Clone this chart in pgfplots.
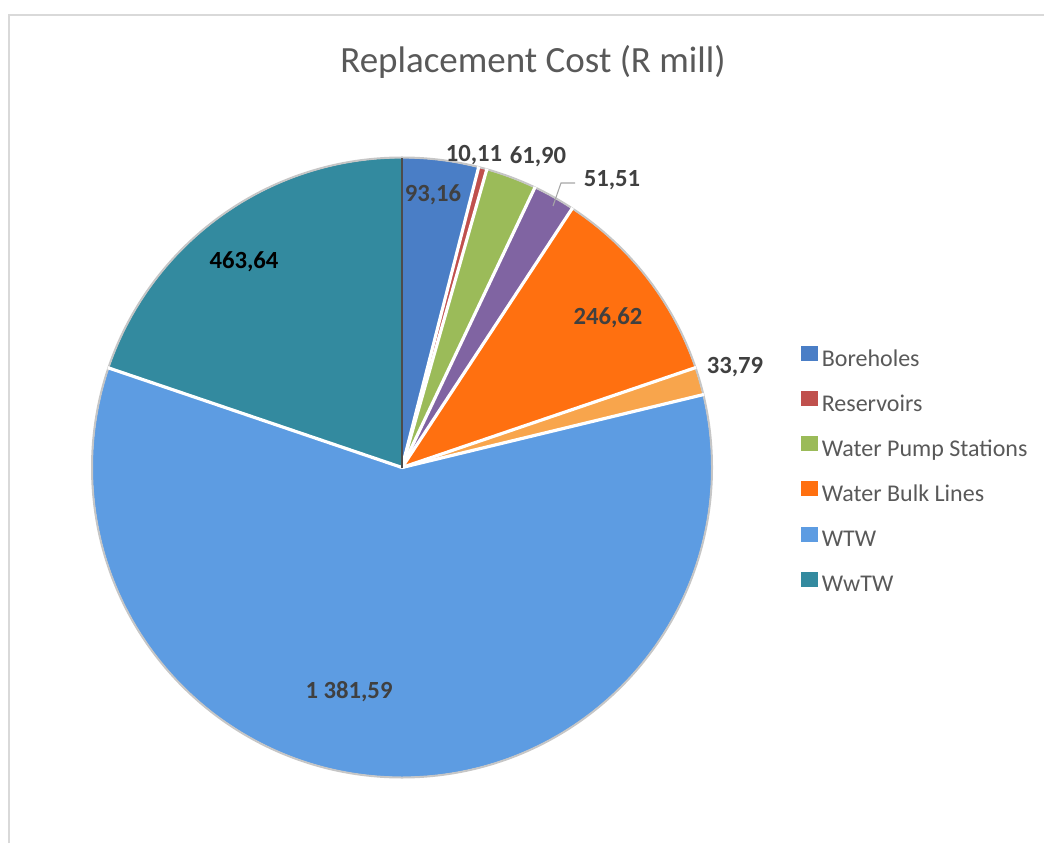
\documentclass[border=0pt]{standalone}
\usepackage{pgfplots}
\pgfplotsset{compat=1.18}
\usepackage{fontspec}
\setmainfont{Carlito}
\definecolor{cBore}{HTML}{4A7EC6}
\definecolor{cRes}{HTML}{C0504D}
\definecolor{cWPS}{HTML}{9BBB59}
\definecolor{cPur}{HTML}{8064A2}
\definecolor{cWBL}{HTML}{FF7010}
\definecolor{cLOr}{HTML}{F8A54C}
\definecolor{cWTW}{HTML}{5D9CE2}
\definecolor{cWwTW}{HTML}{338A9F}
\definecolor{txt}{HTML}{404040}
\definecolor{ttl}{HTML}{595959}
\definecolor{frame}{HTML}{D9D9D9}
\newcommand\pieslice[3]{\fill[#3] (axis cs:402,375.5) -- ++(#1:232pt) arc[start angle=#1,end angle=#2,radius=232pt] -- cycle;}
\newcommand\piesep[1]{\draw[white,line width=2.4pt] (axis cs:402,375.5) -- ++(#1:233pt);}
\begin{document}
\begin{tikzpicture}
\useasboundingbox (0,0) rectangle (783pt,632.25pt);
% values (R mill), clockwise from 12 o'clock
\def\vA{93.16}\def\vB{10.11}\def\vC{61.90}\def\vD{51.51}
\def\vE{246.62}\def\vF{33.79}\def\vG{1381.59}\def\vH{463.64}
\pgfmathsetmacro\T{\vA+\vB+\vC+\vD+\vE+\vF+\vG+\vH}
\pgfmathsetmacro\aA{90}
\pgfmathsetmacro\aB{\aA-\vA/\T*360}
\pgfmathsetmacro\aC{\aB-\vB/\T*360}
\pgfmathsetmacro\aD{\aC-\vC/\T*360}
\pgfmathsetmacro\aE{\aD-\vD/\T*360}
\pgfmathsetmacro\aF{\aE-\vE/\T*360}
\pgfmathsetmacro\aG{\aF-\vF/\T*360}
\pgfmathsetmacro\aH{\aG-\vG/\T*360}
\pgfmathsetmacro\aI{\aH-\vH/\T*360}
\begin{axis}[
  at={(0,0)}, anchor=south west,
  width=783pt, height=632.25pt, scale only axis,
  xmin=0, xmax=1044, ymin=0, ymax=843,
  hide axis, clip=false,
  legend cell align=left,
  legend style={at={(axis cs:801,497)}, anchor=north west, draw=none, fill=none,
    font=\fontsize{18}{20}\selectfont, text=ttl, row sep=14.6pt, column sep=3pt,
    inner sep=0pt,
    nodes={inner sep=0pt, text height=13pt, text depth=4pt}},
]
\addlegendimage{legend image code/.code={\fill[cBore] (0pt,0pt) rectangle (12pt,10.5pt);}}
\addlegendentry{Boreholes}
\addlegendimage{legend image code/.code={\fill[cRes] (0pt,0pt) rectangle (12pt,10.5pt);}}
\addlegendentry{Reservoirs}
\addlegendimage{legend image code/.code={\fill[cWPS] (0pt,0pt) rectangle (12pt,10.5pt);}}
\addlegendentry{Water Pump Stations}
\addlegendimage{legend image code/.code={\fill[cWBL] (0pt,0pt) rectangle (12pt,10.5pt);}}
\addlegendentry{Water Bulk Lines}
\addlegendimage{legend image code/.code={\fill[cWTW] (0pt,0pt) rectangle (12pt,10.5pt);}}
\addlegendentry{WTW}
\addlegendimage{legend image code/.code={\fill[cWwTW] (0pt,0pt) rectangle (12pt,10.5pt);}}
\addlegendentry{WwTW}
% frame
\draw[frame,line width=1.5pt] (axis cs:9,0) -- (axis cs:9,828) -- (axis cs:1044,828);
% title
\node[text=ttl,font=\fontsize{27.75}{30}\selectfont] at (axis cs:533,781) {Replacement Cost (R mill)};
% slices
\pieslice{\aA}{\aB}{cBore}
\pieslice{\aB}{\aC}{cRes}
\pieslice{\aC}{\aD}{cWPS}
\pieslice{\aD}{\aE}{cPur}
\pieslice{\aE}{\aF}{cWBL}
\pieslice{\aF}{\aG}{cLOr}
\pieslice{\aG}{\aH}{cWTW}
\pieslice{\aH}{\aI}{cWwTW}
\draw[gray!45,line width=1.5pt] (axis cs:402,375.5) circle[radius=232.5pt];
\piesep{\aB}\piesep{\aC}\piesep{\aD}\piesep{\aE}\piesep{\aF}\piesep{\aG}\piesep{\aH}
\draw[black!70,line width=1pt] (axis cs:402,375.5) -- ++(90:232pt);
% leader line for 51,51
\draw[gray!70,line width=0.8pt] (axis cs:553,637) -- (axis cs:561,660) -- (axis cs:575,660);
% data labels
\begin{scope}[every node/.style={font=\fontsize{18.5}{20}\selectfont\bfseries, text=txt}]
\node at (axis cs:433,648) {93,16};
\node at (axis cs:474,688) {10,11};
\node at (axis cs:538,686) {61,90};
\node at (axis cs:612,663) {51,51};
\node at (axis cs:608,525) {246,62};
\node at (axis cs:735,476) {33,79};
\node at (axis cs:349,151) {1 381,59};
\node[text=black] at (axis cs:244,581) {463,64};
\end{scope}
\end{axis}
\end{tikzpicture}
\end{document}
